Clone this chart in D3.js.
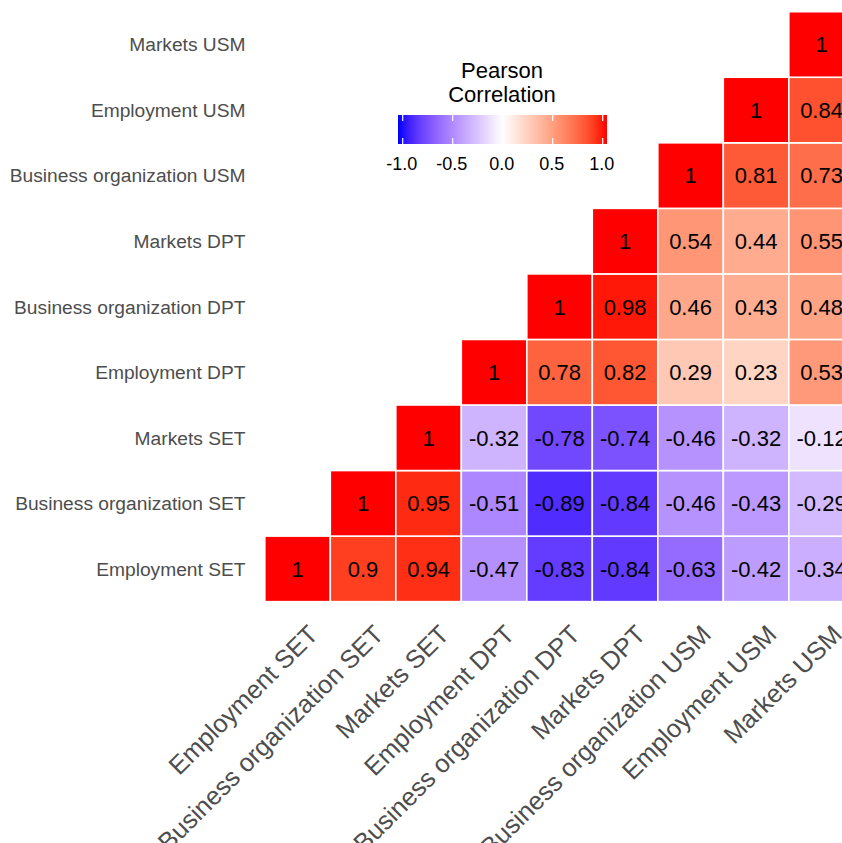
<!DOCTYPE html>
<html>
<head>
<meta charset="utf-8">
<script src="https://cdn.jsdelivr.net/npm/d3@7"></script>
<style>
  body { margin: 0; background: #fff; }
  svg { display: block; font-family: "Liberation Sans", Arial, sans-serif; }
</style>
</head>
<body>
<div id="chart"></div>
<script>
// variables, in order (x from left, y from bottom)
var vars = ["Employment SET", "Business organization SET", "Markets SET",
            "Employment DPT", "Business organization DPT", "Markets DPT",
            "Business organization USM", "Employment USM", "Markets USM"];

// upper triangle, row i starts at column i
var r0 = [1, 0.9, 0.94, -0.47, -0.83, -0.84, -0.63, -0.42, -0.34];
var r1 = [1, 0.95, -0.51, -0.89, -0.84, -0.46, -0.43, -0.29];
var r2 = [1, -0.32, -0.78, -0.74, -0.46, -0.32, -0.12];
var r3 = [1, 0.78, 0.82, 0.29, 0.23, 0.53];
var r4 = [1, 0.98, 0.46, 0.43, 0.48];
var r5 = [1, 0.54, 0.44, 0.55];
var r6 = [1, 0.81, 0.73];
var r7 = [1, 0.84];
var r8 = [1];
var rows = [r0, r1, r2, r3, r4, r5, r6, r7, r8];

var legendTicks = [-1, -0.5, 0, 0.5, 1];

var W = 842, H = 843;
var svg = d3.select("#chart").append("svg")
  .attr("width", W).attr("height", H);

var x = d3.scaleBand().domain(vars).range([264.8, 264.8 + 9 * 65.5]);
var y = d3.scaleBand().domain(vars).range([11.7 + 9 * 65.55, 11.7]);

var blue = d3.interpolateLab("white", "blue");
var red = d3.interpolateLab("white", "red");
function fill(v) { return v < 0 ? blue(-v) : red(v); }

var cells = [];
rows.forEach(function (r, i) {
  r.forEach(function (v, k) {
    cells.push({row: vars[i], col: vars[i + k], v: v});
  });
});

svg.append("g").selectAll("rect").data(cells).join("rect")
  .attr("x", d => x(d.col))
  .attr("y", d => y(d.row))
  .attr("width", x.bandwidth())
  .attr("height", y.bandwidth())
  .attr("fill", d => fill(d.v))
  .attr("stroke", "white")
  .attr("stroke-width", 1.6);

svg.append("g").selectAll("text").data(cells).join("text")
  .attr("x", d => x(d.col) + x.bandwidth() / 2)
  .attr("y", d => y(d.row) + y.bandwidth() / 2)
  .attr("dy", "0.36em")
  .attr("text-anchor", "middle")
  .attr("font-size", 22)
  .attr("fill", "#000")
  .text(d => String(d.v));

// y axis labels
svg.append("g").selectAll("text").data(vars).join("text")
  .attr("x", 245.5)
  .attr("y", d => y(d) + y.bandwidth() / 2)
  .attr("dy", "0.36em")
  .attr("text-anchor", "end")
  .attr("font-size", 19.2)
  .attr("fill", "#4d4d4d")
  .text(d => d);

// x axis labels, rotated
svg.append("g").selectAll("text").data(vars).join("text")
  .attr("transform", d => "translate(" + (x(d) + x.bandwidth() / 2 + 9) + ",623) rotate(-45)")
  .attr("dy", "0.72em")
  .attr("text-anchor", "end")
  .attr("font-size", 25.5)
  .attr("fill", "#4d4d4d")
  .text(d => d);

// legend
var lg = svg.append("g");
var lx = d3.scaleLinear().domain([-1, 1]).range([402.7, 602.7]);

var grad = svg.append("defs").append("linearGradient").attr("id", "cbar");
d3.range(0, 1.001, 0.05).forEach(function (t) {
  grad.append("stop").attr("offset", t).attr("stop-color", fill(-1.04 + t * 2.08));
});

lg.append("rect")
  .attr("x", 398).attr("y", 115).attr("width", 209).attr("height", 29)
  .attr("fill", "url(#cbar)");

lg.selectAll("line.top").data(legendTicks).join("line")
  .attr("x1", d => lx(d)).attr("x2", d => lx(d))
  .attr("y1", 115).attr("y2", 121)
  .attr("stroke", "white").attr("stroke-width", 1.2);
lg.selectAll("line.bot").data(legendTicks).join("line")
  .attr("x1", d => lx(d)).attr("x2", d => lx(d))
  .attr("y1", 138).attr("y2", 144)
  .attr("stroke", "white").attr("stroke-width", 1.2);

lg.selectAll("text.tick").data(legendTicks).join("text")
  .attr("x", d => lx(d) - 1)
  .attr("y", 170)
  .attr("text-anchor", "middle")
  .attr("font-size", 18)
  .attr("fill", "#000")
  .text(d => d3.format(".1f")(d).replace("−", "-"));

lg.append("text").attr("x", 502).attr("y", 78)
  .attr("text-anchor", "middle").attr("font-size", 22).text("Pearson");
lg.append("text").attr("x", 502).attr("y", 102)
  .attr("text-anchor", "middle").attr("font-size", 22).text("Correlation");
</script>
</body>
</html>
